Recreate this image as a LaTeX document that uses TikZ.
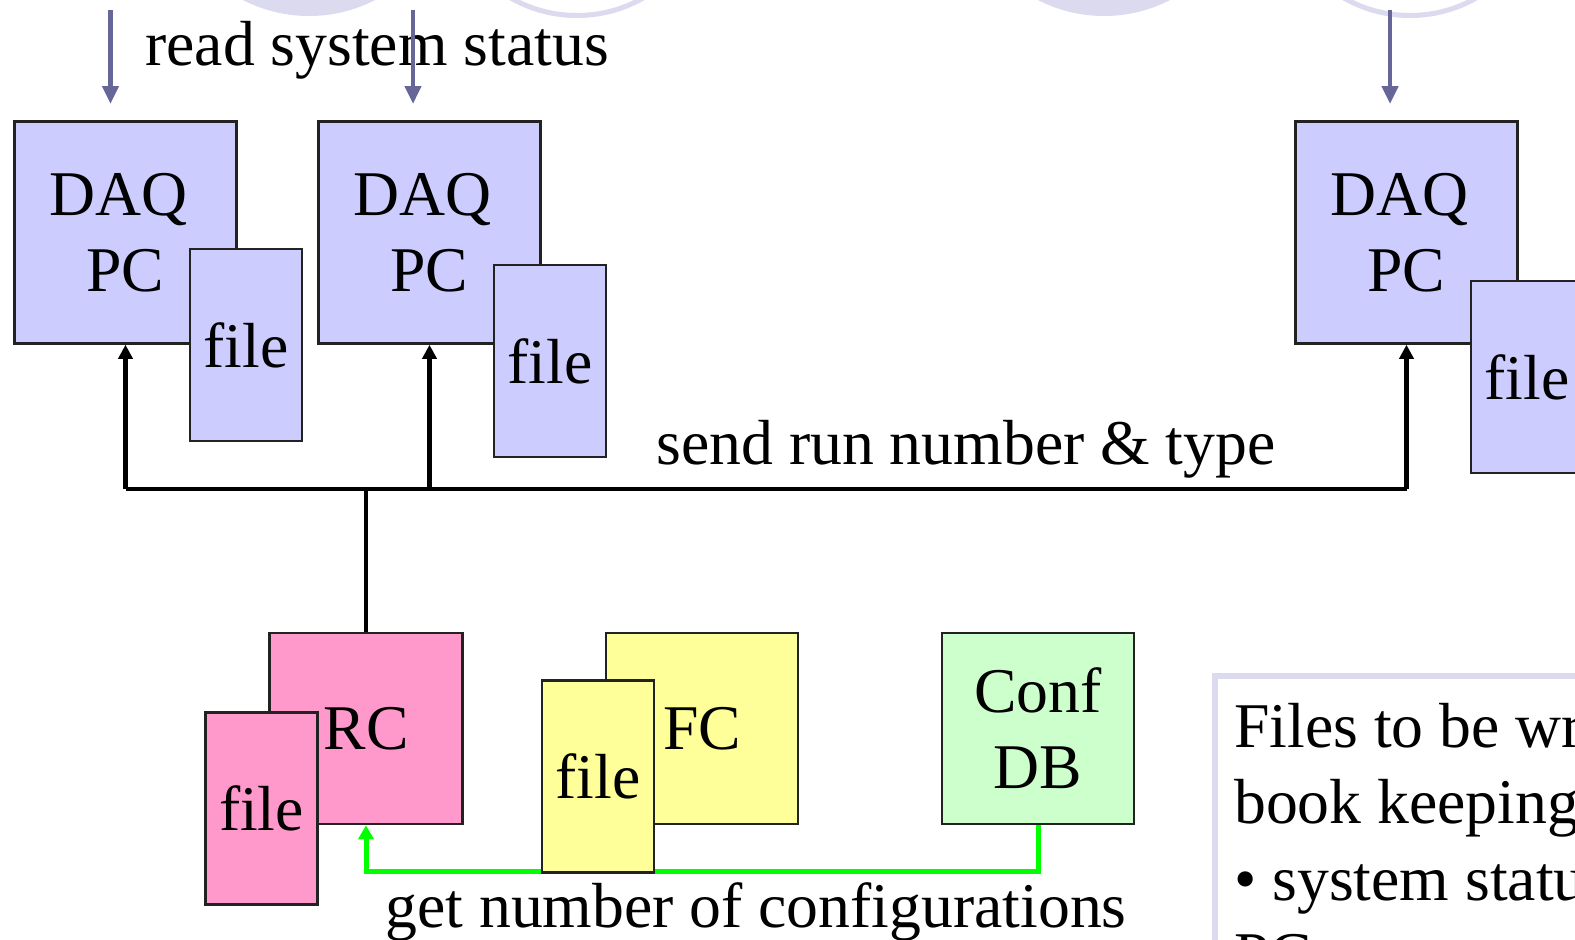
\documentclass[tikz,border=0pt]{standalone}
\usepackage{fontspec}
\setmainfont{Liberation Serif}
\usetikzlibrary{arrows.meta}

\definecolor{daqfill}{HTML}{CCCCFF}
\definecolor{rcfill}{HTML}{FF99CC}
\definecolor{fcfill}{HTML}{FFFF99}
\definecolor{dbfill}{HTML}{CCFFCC}
\definecolor{cfgline}{HTML}{00FF00}
\definecolor{statline}{HTML}{666699}
\definecolor{lavender}{RGB}{220,218,238}
\definecolor{edge}{HTML}{222222}

\tikzset{
  bigfont/.style={font=\fontsize{63.7}{76}\selectfont},
  unit/.style={draw=edge, line width=2.5pt, inner sep=0pt, align=center, bigfont},
  filebox/.style={unit, minimum width=112pt, minimum height=192pt},
  mainbox/.style={unit, minimum width=222pt, minimum height=222pt},
  smallbox/.style={unit, minimum width=192pt, minimum height=191pt},
  label/.style={inner sep=0pt, bigfont, anchor=base},
  statarrow/.style={draw=statline, line width=4.5pt, -{Triangle[width=16pt,length=18pt]}},
  runline/.style={draw=black, line width=4.8pt},
  runarrow/.style={runline, -{Triangle[width=14pt,length=14pt]}},
  cfgarrow/.style={draw=cfgline, line width=5pt, -{Triangle[width=15pt,length=14pt]}},
}

\begin{document}
\begin{tikzpicture}[x=1pt, y=-1pt]
  \clip (0,0) rectangle (1575,940);
  \fill[white] (0,0) rectangle (1575,940);

  % decorative discs and rings along the top edge
  \fill[lavender] (309,-128) circle[radius=144];
  \draw[lavender, line width=5pt] (577,-118) circle[radius=133.5];
  \fill[lavender] (1104,-128) circle[radius=144];
  \draw[lavender, line width=5pt] (1410,-118) circle[radius=133.5];

  % status read arrows
  \coordinate (s1) at (110.5,10);
  \coordinate (s2) at (413,10);
  \coordinate (s3) at (1390,10);
  \coordinate (t1) at (110.5,104);
  \coordinate (t2) at (413,104);
  \coordinate (t3) at (1390,104);
  \node[label] (readlbl) at (377,65) {read system status};
  \draw[statarrow] (s1) -- (t1);
  \draw[statarrow] (s2) -- (t2);
  \draw[statarrow] (s3) -- (t3);

  % DAQ PCs with their files
  \node[mainbox, fill=daqfill] (pc1) at (125.5,232.5) {DAQ\kern14pt\\PC};
  \node[filebox, fill=daqfill] (f1) at (246,345) {file};
  \node[mainbox, fill=daqfill] (pc2) at (429.5,232.5) {DAQ\kern14pt\\PC};
  \node[filebox, fill=daqfill] (f2) at (550,361) {file};
  \node[mainbox, fill=daqfill] (pc3) at (1406.5,232.5) {DAQ\kern14pt\\PC};
  \node[filebox, fill=daqfill] (f3) at (1527,377) {file};

  % run control, file catalogue, configuration database
  \node[smallbox, fill=rcfill, minimum width=193pt] (rc) at (366,728.5) {RC};
  \node[filebox, fill=rcfill] (rcf) at (261.5,808.5) {file};
  \node[smallbox, fill=fcfill] (fc) at (702,728.5) {FC};
  \node[smallbox, fill=dbfill] (db) at (1038,728.5) {Conf\\DB};

  % run number distribution
  \coordinate (bus) at (rc.north |- 0,489);
  \draw[runline] (rc.north) -- (bus);
  \draw[runline] (pc1.south |- bus) -- (pc3.south |- bus);
  \draw[runarrow] (pc1.south |- bus) -- (pc1.south);
  \draw[runarrow] (pc2.south |- bus) -- (pc2.south);
  \draw[runarrow] (pc3.south |- bus) -- (pc3.south);
  \node[label] (sendlbl) at (966,464) {send run number \& type};

  % configuration query
  \coordinate (cfgcorner) at (db.south |- 0,871);
  \draw[cfgarrow] (db.south) -- (cfgcorner) -- (rc.south |- cfgcorner) -- (rc.south);
  \node[filebox, fill=fcfill] (fcf) at (598,776.5) {file};
  \node[label] (getlbl) at (756,927) {get number of configurations};

  % note panel on the right
  \draw[lavender, line width=6pt, fill=white] (1215,676) rectangle (1800,1200);
  \node[inner sep=0pt, anchor=base west, align=left,
        font=\fontsize{63.7}{76.5}\selectfont] (note) at (1234,976.5)
        {Files to be written for\\book keeping\\• system status of DAQ\\PC};
\end{tikzpicture}
\end{document}
